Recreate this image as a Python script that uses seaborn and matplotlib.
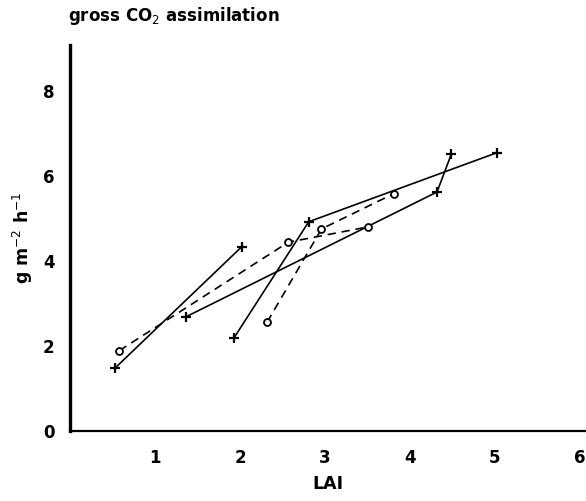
import matplotlib
matplotlib.use("Agg")
import matplotlib.pyplot as plt
import seaborn as sns
import pandas as pd

# Solid lines with "+" markers
lai_a = [0.53, 2.02]
co2_a = [1.48, 4.33]
lai_b = [1.36, 4.32, 4.49]
co2_b = [2.68, 5.62, 6.52]
lai_c = [1.93, 2.81, 5.02]
co2_c = [2.19, 4.92, 6.54]
# Dashed lines with open circles
lai_d = [0.58, 2.57, 3.51]
co2_d = [1.89, 4.44, 4.80]
lai_e = [2.32, 2.96, 3.81]
co2_e = [2.56, 4.75, 5.58]

x_ticks = [1, 2, 3, 4, 5, 6]
y_ticks = [0, 2, 4, 6, 8]

sns.set_style("white")
plt.rcParams['font.family'] = ['DejaVu Sans']
plt.rcParams['text.color'] = 'black'
plt.rcParams['axes.labelcolor'] = 'black'
plt.rcParams['xtick.color'] = 'black'
plt.rcParams['ytick.color'] = 'black'

fig = plt.figure(figsize=(5.86, 5.01), dpi=100)
ax = fig.add_axes([0.1195, 0.1397, 0.88, 0.77])

solid = [(lai_a, co2_a), (lai_b, co2_b), (lai_c, co2_c)]
dashed = [(lai_d, co2_d), (lai_e, co2_e)]

for xs, ys in solid:
    df = pd.DataFrame({"x": xs, "y": ys})
    sns.lineplot(data=df, x="x", y="y", sort=False, estimator=None, ax=ax,
                 color="black", linewidth=1.2, marker="+", markersize=6.5,
                 markeredgewidth=1.6, markeredgecolor="black")

for xs, ys in dashed:
    df = pd.DataFrame({"x": xs, "y": ys})
    sns.lineplot(data=df, x="x", y="y", sort=False, estimator=None, ax=ax,
                 color="black", linewidth=1.2, marker="o", markersize=5,
                 markerfacecolor="white", markeredgecolor="black",
                 markeredgewidth=1.3, dashes=False, linestyle=(0, (5, 3.5)))

ax.set_xlim(0, 6.07)
ax.set_ylim(0, 9.07)
ax.set_xticks(x_ticks)
ax.set_yticks(y_ticks)
ax.set_xticklabels([str(t) for t in x_ticks], fontweight="bold", fontsize=12)
ax.set_yticklabels([str(t) for t in y_ticks], fontweight="bold", fontsize=12)
ax.tick_params(axis="both", direction="inout", length=6, width=1.2, colors="black")
ax.tick_params(axis="y", pad=8)
ax.tick_params(axis="x", pad=10)

for side in ["top", "right"]:
    ax.spines[side].set_visible(False)
ax.spines["left"].set_linewidth(2.4)
ax.spines["bottom"].set_linewidth(1.6)
ax.spines["left"].set_color("black")
ax.spines["bottom"].set_color("black")

ax.set_xlabel("LAI", fontweight="bold", fontsize=12.5, labelpad=6)
ax.set_ylabel("g m$^{-2}$ h$^{-1}$", fontweight="bold", fontsize=12.5, labelpad=6)
fig.text(0.116, 0.968, "gross CO$_2$ assimilation", fontweight="bold",
         fontsize=12, ha="left", va="center")

fig.savefig("out.png", dpi=100, facecolor="white")
